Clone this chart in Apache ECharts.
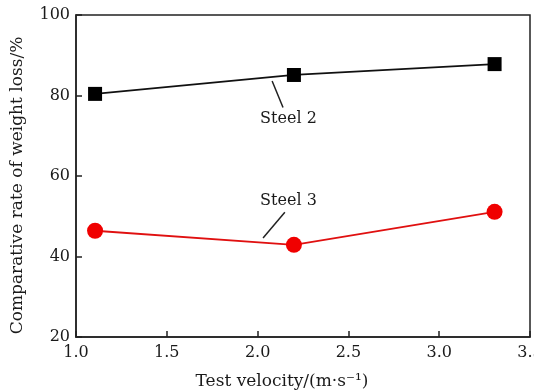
<!DOCTYPE html>
<html>
<head>
<meta charset="utf-8">
<script src="https://cdn.jsdelivr.net/npm/echarts@6/dist/echarts.min.js"></script>
<style>
  html, body { margin: 0; padding: 0; background: #fff; }
  #main { width: 534px; height: 391px; }
</style>
</head>
<body>
<div id="main"></div>
<script>
// test velocity (m/s)
var velocity = [1.105, 2.2, 3.305];
var steel2 = [80.4, 85.1, 87.8];
var steel3 = [46.4, 42.9, 51.1];

// annotation positions in data units: [text, line start, line end]
var note2 = { text: 'Steel 2', at: [2.17, 74.2], from: [2.08, 83.6], to: [2.14, 77.0] };
var note3 = { text: 'Steel 3', at: [2.17, 53.8], from: [2.15, 51.0], to: [2.03, 44.6] };

function pairs(xs, ys) {
    var arr = [];
    for (var i = 0; i < xs.length; i++) {
        arr.push([xs[i], ys[i]]);
    }
    return arr;
}

var font = 'DejaVu Serif';
var myChart = echarts.init(document.getElementById('main'));
var option = {
    animation: false,
    grid: {
        left: 76, right: 4, top: 15, bottom: 54,
        outerBoundsMode: 'none',
        containLabel: false,
        show: true,
        borderColor: '#222',
        borderWidth: 1.5
    },
    xAxis: {
        type: 'value',
        min: 1, max: 3.5, interval: 0.5,
        name: 'Test velocity/(m·s⁻¹)',
        nameLocation: 'middle',
        nameGap: 36,
        nameTextStyle: { fontFamily: font, fontSize: 17, color: '#1a1a1a', padding: [0, 42, 0, 0] },
        axisLine: { lineStyle: { color: '#222', width: 1.5 } },
        axisTick: { inside: true, length: 6, lineStyle: { color: '#222', width: 1.5 } },
        axisLabel: {
            fontFamily: font, fontSize: 16, color: '#1a1a1a', margin: 8,
            formatter: function (v) { return v.toFixed(1); }
        },
        splitLine: { show: false }
    },
    yAxis: {
        type: 'value',
        min: 20, max: 100, interval: 20,
        name: 'Comparative rate of weight loss/%',
        nameLocation: 'middle',
        nameGap: 50,
        nameTextStyle: { fontFamily: font, fontSize: 17, color: '#1a1a1a', padding: [0, 19, 0, 0] },
        axisLine: { lineStyle: { color: '#222', width: 1.5 } },
        axisTick: { inside: true, length: 6, lineStyle: { color: '#222', width: 1.5 } },
        axisLabel: { fontFamily: font, fontSize: 16, color: '#1a1a1a', margin: 6 },
        splitLine: { show: false }
    },
    series: [
        {
            name: 'Steel 2',
            type: 'line',
            data: pairs(velocity, steel2),
            symbol: 'rect',
            symbolSize: 14,
            lineStyle: { color: '#111', width: 1.8 },
            itemStyle: { color: '#000' }
        },
        {
            name: 'Steel 3',
            type: 'line',
            data: pairs(velocity, steel3),
            symbol: 'circle',
            symbolSize: 16,
            lineStyle: { color: '#e01010', width: 1.8 },
            itemStyle: { color: '#f00000' }
        }
    ]
};
myChart.setOption(option);

function noteGraphics(n) {
    var p = myChart.convertToPixel({ gridIndex: 0 }, n.at);
    var a = myChart.convertToPixel({ gridIndex: 0 }, n.from);
    var b = myChart.convertToPixel({ gridIndex: 0 }, n.to);
    return [
        {
            type: 'line',
            shape: { x1: a[0], y1: a[1], x2: b[0], y2: b[1] },
            style: { stroke: '#222', lineWidth: 1.5 }
        },
        {
            type: 'text',
            x: p[0], y: p[1],
            style: {
                text: n.text, fill: '#1a1a1a',
                font: '16px "' + font + '"',
                align: 'center', verticalAlign: 'middle'
            }
        }
    ];
}

myChart.setOption({ graphic: noteGraphics(note2).concat(noteGraphics(note3)) });
</script>
</body>
</html>
